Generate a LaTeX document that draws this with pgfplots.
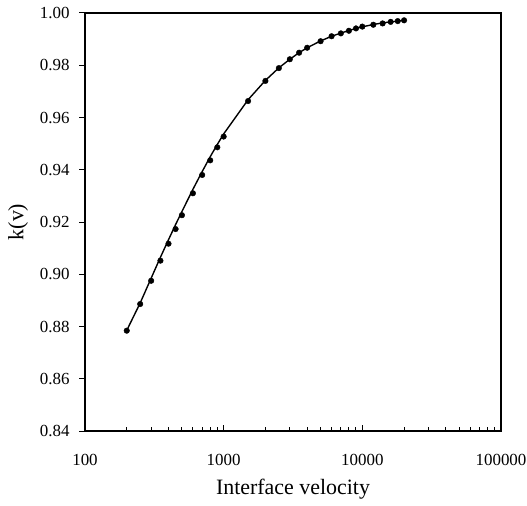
\documentclass[border=0pt]{standalone}
\usepackage{fontspec}
\setmainfont{Liberation Serif}
\usepackage{pgfplots}
\pgfplotsset{compat=1.18}
\begin{document}
\begin{tikzpicture}
\begin{axis}[
  scale only axis,
  width=416bp, height=418bp,
  xmode=log,
  xmin=100, xmax=100000,
  ymin=0.84, ymax=1.00,
  xtick={100,1000,10000,100000},
  xticklabels={100,1000,10000,100000},
  ytick={0.84,0.86,0.88,0.90,0.92,0.94,0.96,0.98,1.00},
  yticklabel style={/pgf/number format/fixed,/pgf/number format/fixed zerofill,/pgf/number format/precision=2},
  /pgf/number format/assume math mode=true,
  tick label style={font=\fontsize{17}{19}\selectfont},
  xticklabel style={yshift=-20bp},
  yticklabel style={xshift=-6bp},
  x tick style={black, line width=1pt},
  y tick style={black, line width=1pt},
  xtick pos=bottom, ytick pos=left,
  xtick align=inside, ytick align=outside,
  major tick length=6bp, minor tick length=4bp,
  axis line style={line width=1.4pt},
  xlabel={Interface velocity},
  ylabel={k(v)},
  label style={font=\fontsize{22}{24}\selectfont},
  xlabel style={yshift=-6bp},
  ylabel style={yshift=5bp},
]
\addplot[black, line width=1.4pt, no marks] coordinates {
(200,0.8785) (250,0.8890) (300,0.8985) (350,0.9065) (400,0.9132) (450,0.9190)
(500,0.9240) (600,0.9325) (700,0.9393) (800,0.9450) (900,0.9497) (1000,0.9537)
(1500,0.9668) (2000,0.9742) (2500,0.9790) (3000,0.9823) (3500,0.9848) (4000,0.9867)
(5000,0.9893) (6000,0.9911) (7000,0.9923) (8000,0.9933) (9000,0.9941) (10000,0.9947)
(12000,0.9956) (14000,0.9962) (16000,0.9966) (18000,0.9969) (20000,0.9972)
};
\addplot[only marks, mark=*, mark size=2.8bp, black] coordinates {
(200,0.8784) (250,0.8886) (300,0.8975) (350,0.9052) (400,0.9117) (450,0.9173)
(500,0.9226) (600,0.9310) (700,0.9380) (800,0.9436) (900,0.9486) (1000,0.9527)
(1500,0.9663) (2000,0.9740) (2500,0.9789) (3000,0.9823) (3500,0.9848) (4000,0.9867)
(5000,0.9892) (6000,0.9911) (7000,0.9922) (8000,0.9932) (9000,0.9941) (10000,0.9948)
(12000,0.9955) (14000,0.9960) (16000,0.9966) (18000,0.9969) (20000,0.9972)
};
\coordinate (bl) at (rel axis cs:0,0);
\coordinate (tr) at (rel axis cs:1,1);
\end{axis}
\pgfresetboundingbox
\path[use as bounding box] ([shift={(-85bp,-75bp)}]bl) rectangle ([shift={(26bp,13bp)}]tr);
\end{tikzpicture}
\end{document}
